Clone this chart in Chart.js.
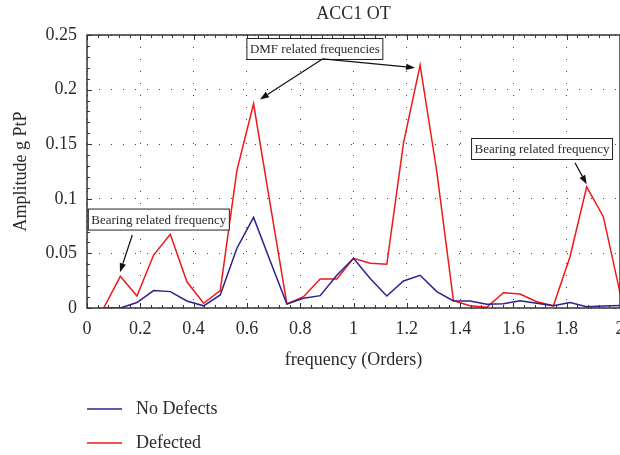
<!DOCTYPE html>
<html>
<head>
<meta charset="utf-8">
<script src="https://cdn.jsdelivr.net/npm/chart.js@4.4.1/dist/chart.umd.min.js"></script>
<style>
  html, body { margin: 0; padding: 0; background: #fff; }
  #wrap { width: 620px; height: 455px; }
</style>
</head>
<body>
<div id="wrap"><canvas id="accChart"></canvas></div>
<script>
// frequency bins (orders)
const freqs = [0.0625, 0.125, 0.1875, 0.25, 0.3125, 0.375, 0.4375, 0.5,
    0.5625, 0.625, 0.6875, 0.75, 0.8125, 0.875, 0.9375, 1.0,
    1.0625, 1.125, 1.1875, 1.25, 1.3125, 1.375, 1.4375, 1.5,
    1.5625, 1.625, 1.6875, 1.75, 1.8125, 1.875, 1.9375, 2.0];

// amplitude g PtP
const noDefects = [0, 0, 0.005, 0.016, 0.015, 0.0064, 0.002, 0.012,
    0.0547, 0.083, 0.043, 0.0037, 0.0089, 0.0113, 0.030, 0.0455,
    0.027, 0.011, 0.0247, 0.030, 0.015, 0.0064, 0.0064, 0.0034,
    0.004, 0.0067, 0.0043, 0.002, 0.005, 0.0012, 0.0018, 0.0024];

const defected = [0, 0.029, 0.011, 0.0485, 0.0675, 0.024, 0.0043, 0.016,
    0.126, 0.187, 0.095, 0.0037, 0.0104, 0.0265, 0.0265, 0.0455,
    0.041, 0.040, 0.151, 0.2225, 0.125, 0.0067, 0.002, 0.0006,
    0.014, 0.0128, 0.0058, 0.002, 0.047, 0.111, 0.0836, 0.014];

const seriesLabels = ['No Defects', 'Defected'];
const xTicks = [0, 0.2, 0.4, 0.6, 0.8, 1, 1.2, 1.4, 1.6, 1.8, 2];
const yTicks = [0, 0.05, 0.1, 0.15, 0.2, 0.25];

// callouts, anchored in data units
const notes = [
    { text: 'DMF related frequencies', x: 0.600, y: 0.2372,
      arrows: [[0.885, 0.2282, 0.649, 0.191], [0.885, 0.2282, 1.231, 0.220]] },
    { text: 'Bearing related frequency', x: 0.005, y: 0.081,
      arrows: [[0.170, 0.0668, 0.1238, 0.0327]] },
    { text: 'Bearing related frequency', x: 1.443, y: 0.1456,
      arrows: [[1.831, 0.133, 1.875, 0.1133]] }
];

const SERIF = '"Liberation Serif", "Times New Roman", serif';
const TXT = '#2b2b2b';

function toPoints(ys) {
    return ys.map((v, i) => ({ x: freqs[i], y: v }));
}

function arrow(ctx, x1, y1, x2, y2) {
    const a = Math.atan2(y2 - y1, x2 - x1);
    const len = 9, half = 3.2;
    const bx = x2 - len * Math.cos(a), by = y2 - len * Math.sin(a);
    ctx.beginPath();
    ctx.moveTo(x1, y1);
    ctx.lineTo(bx, by);
    ctx.stroke();
    ctx.beginPath();
    ctx.moveTo(x2, y2);
    ctx.lineTo(bx + half * Math.sin(a), by - half * Math.cos(a));
    ctx.lineTo(bx - half * Math.sin(a), by + half * Math.cos(a));
    ctx.closePath();
    ctx.fill();
}

const decor = {
    id: 'decor',
    afterDraw(chart) {
        const { ctx, chartArea: ca, scales } = chart;
        const xs = scales.x, ys = scales.y;
        ctx.save();

        // frame
        ctx.strokeStyle = '#333';
        ctx.lineWidth = 1.5;
        ctx.strokeRect(ca.left, ca.top, ca.right - ca.left, ca.bottom - ca.top);

        // inward ticks, major + minor
        ctx.lineWidth = 1;
        ctx.beginPath();
        for (let i = 0; i <= 50; i++) {
            const px = Math.round(xs.getPixelForValue(i * 0.04)) + 0.5;
            const l = i % 5 === 0 ? 5 : 3;
            ctx.moveTo(px, ca.bottom); ctx.lineTo(px, ca.bottom - l);
            ctx.moveTo(px, ca.top); ctx.lineTo(px, ca.top + l);
        }
        for (let i = 0; i <= 25; i++) {
            const py = Math.round(ys.getPixelForValue(i * 0.01)) + 0.5;
            const l = i % 5 === 0 ? 5 : 3;
            ctx.moveTo(ca.left, py); ctx.lineTo(ca.left + l, py);
        }
        ctx.stroke();

        // callouts
        ctx.font = '13px ' + SERIF;
        ctx.textBaseline = 'middle';
        notes.forEach(n => {
            const w = ctx.measureText(n.text).width + 6;
            const h = 21;
            const bx = xs.getPixelForValue(n.x);
            const by = ys.getPixelForValue(n.y);
            ctx.fillStyle = '#fff';
            ctx.fillRect(bx, by - h / 2, w, h);
            ctx.strokeStyle = '#222';
            ctx.lineWidth = 1;
            ctx.strokeRect(bx, by - h / 2, w, h);
            ctx.fillStyle = TXT;
            ctx.textAlign = 'left';
            ctx.fillText(n.text, bx + 3, by + 1);
            ctx.fillStyle = '#111';
            ctx.strokeStyle = '#111';
            ctx.lineWidth = 1.2;
            n.arrows.forEach(a => {
                arrow(ctx, xs.getPixelForValue(a[0]), ys.getPixelForValue(a[1]),
                    xs.getPixelForValue(a[2]), ys.getPixelForValue(a[3]));
            });
        });

        // title
        ctx.font = '18px ' + SERIF;
        ctx.fillStyle = TXT;
        ctx.textAlign = 'center';
        ctx.fillText('ACC1 OT', (ca.left + ca.right) / 2, 14);

        // legend, stacked
        ctx.textAlign = 'left';
        chart.data.datasets.forEach((ds, i) => {
            const y = 409 + i * 34;
            ctx.strokeStyle = ds.borderColor;
            ctx.lineWidth = 1.5;
            ctx.beginPath();
            ctx.moveTo(87, y); ctx.lineTo(122, y);
            ctx.stroke();
            ctx.fillStyle = TXT;
            ctx.fillText(ds.label, 136, y);
        });
        ctx.restore();
    }
};

new Chart(document.getElementById('accChart'), {
    type: 'line',
    data: {
        datasets: [{
            label: seriesLabels[0],
            data: toPoints(noDefects),
            borderColor: '#2e2090',
            borderWidth: 1.5,
            pointRadius: 0,
            tension: 0
        }, {
            label: seriesLabels[1],
            data: toPoints(defected),
            borderColor: '#f01818',
            borderWidth: 1.5,
            pointRadius: 0,
            tension: 0
        }]
    },
    options: {
        responsive: true,
        maintainAspectRatio: false,
        animation: false,
        layout: { padding: { top: 35, right: 0, bottom: 80, left: 0 } },
        plugins: {
            legend: { display: false },
            title: { display: false },
            tooltip: { enabled: false }
        },
        scales: {
            x: {
                type: 'linear',
                min: 0,
                max: 2,
                afterBuildTicks: s => { s.ticks = xTicks.map(v => ({ value: v })); },
                afterFit: s => { s.height = 67; s.paddingLeft = 0; s.paddingRight = 0; },
                ticks: {
                    padding: 10,
                    color: TXT,
                    font: { family: SERIF, size: 18 },
                    maxRotation: 0,
                    autoSkip: false,
                    callback: v => String(+v.toFixed(1))
                },
                grid: { color: '#444', lineWidth: 1, drawTicks: false },
                border: { display: false, dash: [1, 11] },
                title: {
                    display: true,
                    text: 'frequency (Orders)',
                    color: TXT,
                    font: { family: SERIF, size: 18 },
                    padding: { top: 0, bottom: 4 }
                }
            },
            y: {
                min: 0,
                max: 0.25,
                afterBuildTicks: s => { s.ticks = yTicks.map(v => ({ value: v })); },
                afterFit: s => { s.width = 87; s.paddingTop = 0; s.paddingBottom = 0; },
                ticks: {
                    padding: 10,
                    color: TXT,
                    font: { family: SERIF, size: 18 },
                    autoSkip: false,
                    callback: v => String(+v.toFixed(2))
                },
                grid: { color: '#444', lineWidth: 1, drawTicks: false },
                border: { display: false, dash: [1, 11] },
                title: {
                    display: true,
                    text: 'Amplitude g PtP',
                    color: TXT,
                    font: { family: SERIF, size: 18 },
                    padding: { top: 10, bottom: 0 }
                }
            }
        }
    },
    plugins: [decor]
});
</script>
</body>
</html>
